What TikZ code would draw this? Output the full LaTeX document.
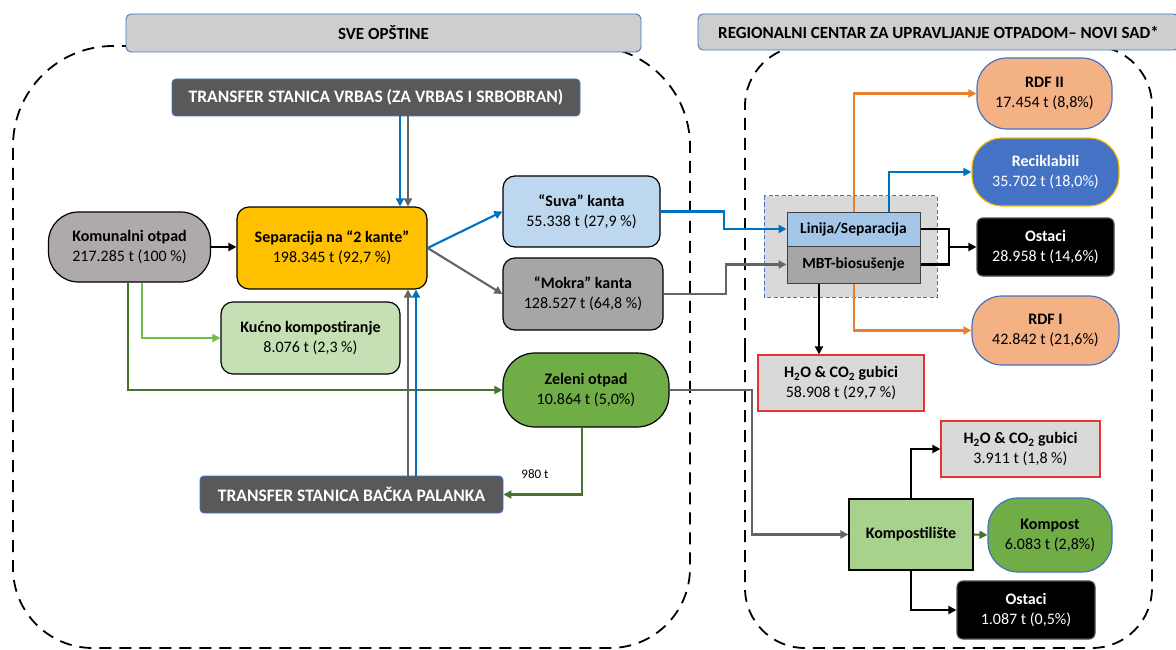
\documentclass[tikz,border=0pt]{standalone}
\usepackage{fontspec}
\setmainfont{Carlito}
\usetikzlibrary{arrows.meta}
\definecolor{hdrgray}{RGB}{206,206,206}
\definecolor{hdrblue}{RGB}{68,114,196}
\definecolor{darkbox}{RGB}{89,89,89}
\definecolor{komgray}{RGB}{174,170,170}
\definecolor{sepyel}{RGB}{255,192,0}
\definecolor{suvablue}{RGB}{189,215,238}
\definecolor{mokgray}{RGB}{166,166,166}
\definecolor{kucgreen}{RGB}{197,224,180}
\definecolor{zelgreen}{RGB}{112,173,71}
\definecolor{lingray}{RGB}{217,217,217}
\definecolor{linblue}{RGB}{164,198,232}
\definecolor{rdforange}{RGB}{244,177,131}
\definecolor{recblue}{RGB}{68,114,196}
\definecolor{recborder}{RGB}{255,192,0}
\definecolor{h2ogray}{RGB}{217,217,217}
\definecolor{h2ored}{RGB}{235,50,50}
\definecolor{kplgreen}{RGB}{169,209,142}
\definecolor{arrblue}{RGB}{0,112,192}
\definecolor{arrgray}{RGB}{100,100,100}
\definecolor{arrlgreen}{RGB}{112,190,70}
\definecolor{arrdgreen}{RGB}{70,115,45}
\definecolor{arrorange}{RGB}{237,125,49}
\tikzset{
  bx/.style={draw=black, line width=1.2pt, align=center, inner sep=2pt,
    font=\fontsize{16}{20}\selectfont},
  hdr/.style={draw=hdrblue, line width=0.9pt, fill=hdrgray, rounded corners=5pt,
    font=\fontsize{17}{20}\selectfont\bfseries},
  transfer/.style={draw=hdrblue, line width=0.9pt, fill=darkbox, rounded corners=4pt,
    text=white, font=\fontsize{17.5}{20}\selectfont\bfseries},
  region/.style={draw=black, line width=1.8pt, dash pattern=on 12pt off 8pt},
  con/.style={line width=2.1pt, -{Triangle[length=8pt,width=8pt]}},
  blk/.style={con, draw=black},
  bl/.style={con, draw=arrblue},
  gr/.style={con, draw=arrgray},
  lgr/.style={con, draw=arrlgreen},
  dgr/.style={con, draw=arrdgreen},
  orng/.style={con, draw=arrorange},
}
\begin{document}
\begin{tikzpicture}[x=1pt,y=-1pt]
\useasboundingbox (0,0) rectangle (1176,650);
% dashed regions
\draw[region, rounded corners=100pt] (13,400) -- (13,46) -- (690,46) -- (690,400);
\draw[region, rounded corners=80pt] (13,400) -- (13,648) -- (690,648) -- (690,400);
\draw[region, rounded corners=60pt] (745,350) -- (745,46) -- (1152,46) -- (1152,350);
\draw[region, rounded corners=60pt] (745,350) -- (745,648) -- (1152,648) -- (1152,350);
% headers
\node[hdr, minimum width=515pt, minimum height=38pt] (sveh) at (383.5,33) {SVE OPŠTINE};
\node[hdr, minimum width=481pt, minimum height=36pt] (regh) at (938.5,32) {REGIONALNI CENTAR ZA UPRAVLJANJE OTPADOM– NOVI SAD*};
% transfer stations
\node[transfer, minimum width=408pt, minimum height=37pt] (vrbas) at (376,97.5) {TRANSFER STANICA VRBAS (ZA VRBAS I SRBOBRAN)};
\node[transfer, minimum width=303pt, minimum height=37pt] (backa) at (351.5,494.5) {TRANSFER STANICA BAČKA PALANKA};
% left nodes
\node[bx, fill=komgray, rounded corners=30pt, minimum width=162pt, minimum height=70pt] (komunal) at (129.5,247) {\textbf{Komunalni otpad}\\217.285 t (100 \%)};
\node[bx, fill=sepyel, rounded corners=12pt, minimum width=190pt, minimum height=82pt] (separ) at (332,248) {\textbf{Separacija na “2 kante”}\\198.345 t (92,7 \%)};
\node[bx, fill=suvablue, rounded corners=12pt, minimum width=157pt, minimum height=71pt] (suva) at (581.5,211.5) {\textbf{“Suva” kanta}\\55.338 t (27,9 \%)};
\node[bx, fill=mokgray, rounded corners=12pt, minimum width=160pt, minimum height=72pt] (mokra) at (583,294) {\textbf{“Mokra” kanta}\\128.527 t (64,8 \%)};
\node[bx, fill=kucgreen, rounded corners=12pt, minimum width=179pt, minimum height=72pt] (kucno) at (310.5,338) {\textbf{Kućno kompostiranje}\\8.076 t (2,3 \%)};
\node[bx, fill=zelgreen, rounded corners=32pt, minimum width=166pt, minimum height=74pt] (zeleni) at (586,390) {\textbf{Zeleni otpad}\\10.864 t (5,0\%)};
\node[font=\fontsize{13}{15}\selectfont] (lbl980) at (535,474) {980 t};
% right side
\fill[lingray] (764,196) rectangle (937,297);
\draw[draw=hdrblue, line width=1pt, dash pattern=on 4pt off 2.5pt] (764,196) rectangle (937,297);
\node[bx, draw=black!75, line width=1pt, fill=linblue, minimum width=133pt, minimum height=34pt, font=\fontsize{15.5}{18}\selectfont\bfseries] (linija) at (853.5,229) {Linija/Separacija};
\node[bx, draw=black!75, line width=1pt, fill=mokgray, minimum width=133pt, minimum height=37pt, font=\fontsize{15.5}{18}\selectfont\bfseries] (mbt) at (853.5,264.5) {MBT-biosušenje};
\node[bx, draw=hdrblue, fill=rdforange, rounded corners=30pt, minimum width=135pt, minimum height=71pt] (rdf2) at (1044.5,93.5) {\textbf{RDF II}\\17.454 t (8,8\%)};
\node[bx, draw=recborder, fill=recblue, text=white, rounded corners=30pt, minimum width=147pt, minimum height=68pt] (recik) at (1045.5,172) {\textbf{Reciklabili}\\35.702 t (18,0\%)};
\node[bx, draw=black!70, fill=black, text=white, rounded corners=6pt, minimum width=137pt, minimum height=58pt] (ostaci1) at (1045.5,247) {\textbf{Ostaci}\\28.958 t (14,6\%)};
\node[bx, draw=hdrblue, fill=rdforange, rounded corners=30pt, minimum width=147pt, minimum height=69pt] (rdf1) at (1045.5,330.5) {\textbf{RDF I}\\42.842 t (21,6\%)};
\node[bx, draw=h2ored, fill=h2ogray, minimum width=166pt, minimum height=56pt] (h2o1) at (841,383) {\textbf{H\textsubscript{2}O \& CO\textsubscript{2} gubici}\\58.908 t (29,7 \%)};
\node[bx, draw=h2ored, fill=h2ogray, minimum width=159pt, minimum height=56pt] (h2o2) at (1020.5,449) {\textbf{H\textsubscript{2}O \& CO\textsubscript{2} gubici}\\3.911 t (1,8 \%)};
\node[bx, fill=kplgreen, minimum width=124pt, minimum height=71pt] (kompl) at (911,534.5) {\textbf{Kompostilište}};
\node[bx, draw=hdrblue, fill=zelgreen, rounded corners=30pt, minimum width=124pt, minimum height=74pt] (kompost) at (1050,535) {\textbf{Kompost}\\6.083 t (2,8\%)};
\node[bx, draw=black!70, fill=black, text=white, rounded corners=6pt, minimum width=138pt, minimum height=58pt] (ostaci2) at (1026,610) {\textbf{Ostaci}\\1.087 t (0,5\%)};
% helper x positions
\coordinate (xVb) at (400,0);
\coordinate (xVg) at (408,0);
\coordinate (xBb) at (416,0);
\coordinate (xKl) at (142,0);
\coordinate (xKd) at (128,0);
\coordinate (xZ) at (582,0);
\coordinate (xS) at (724,0);
\coordinate (xM) at (726,0);
\coordinate (xZk) at (752,0);
\coordinate (xO) at (854,0);
\coordinate (xR) at (889,0);
\coordinate (xJ) at (949,0);
\coordinate (xH) at (819,0);
\coordinate (xK) at (911,0);
% connectors
\draw[blk] (komunal.east) -- (komunal.east -| separ.west);
\draw[lgr] (komunal.south -| xKl) |- (kucno.west);
\draw[dgr] (komunal.south -| xKd) |- (zeleni.west);
\draw[bl] (separ.east) -- (suva.west);
\draw[gr] (separ.east) -- (mokra.west);
\draw[bl] (vrbas.south -| xVb) -- (separ.north -| xVb);
\draw[gr] (vrbas.south -| xVg) -- (separ.north -| xVg);
\draw[gr] (backa.north -| xVg) -- (separ.south -| xVg);
\draw[bl] (backa.north -| xBb) -- (separ.south -| xBb);
\draw[dgr] (zeleni.south -| xZ) |- (backa.east);
\draw[bl] (suva.east) -- (suva.east -| xS) |- (linija.west);
\draw[gr] (mokra.east) -- (mokra.east -| xM) |- (mbt.west);
\draw[gr] (zeleni.east) -- (zeleni.east -| xZk) |- (kompl.west);
\draw[orng] (linija.north -| xO) |- (rdf2.west);
\draw[orng] (mbt.south -| xO) |- (rdf1.west);
\draw[bl] (linija.north -| xR) |- (recik.west);
\draw[line width=2.1pt] (linija.east) -- (linija.east -| xJ) -- (mbt.east -| xJ) -- (mbt.east);
\draw[blk] (ostaci1.west -| xJ) -- (ostaci1.west);
\draw[blk] (mbt.south -| xH) -- (h2o1.north -| xH);
\draw[blk] (kompl.north -| xK) |- (h2o2.west);
\draw[dgr] (kompl.east) -- (kompost.west);
\draw[blk] (kompl.south -| xK) |- (ostaci2.west);
\end{tikzpicture}
\end{document}
